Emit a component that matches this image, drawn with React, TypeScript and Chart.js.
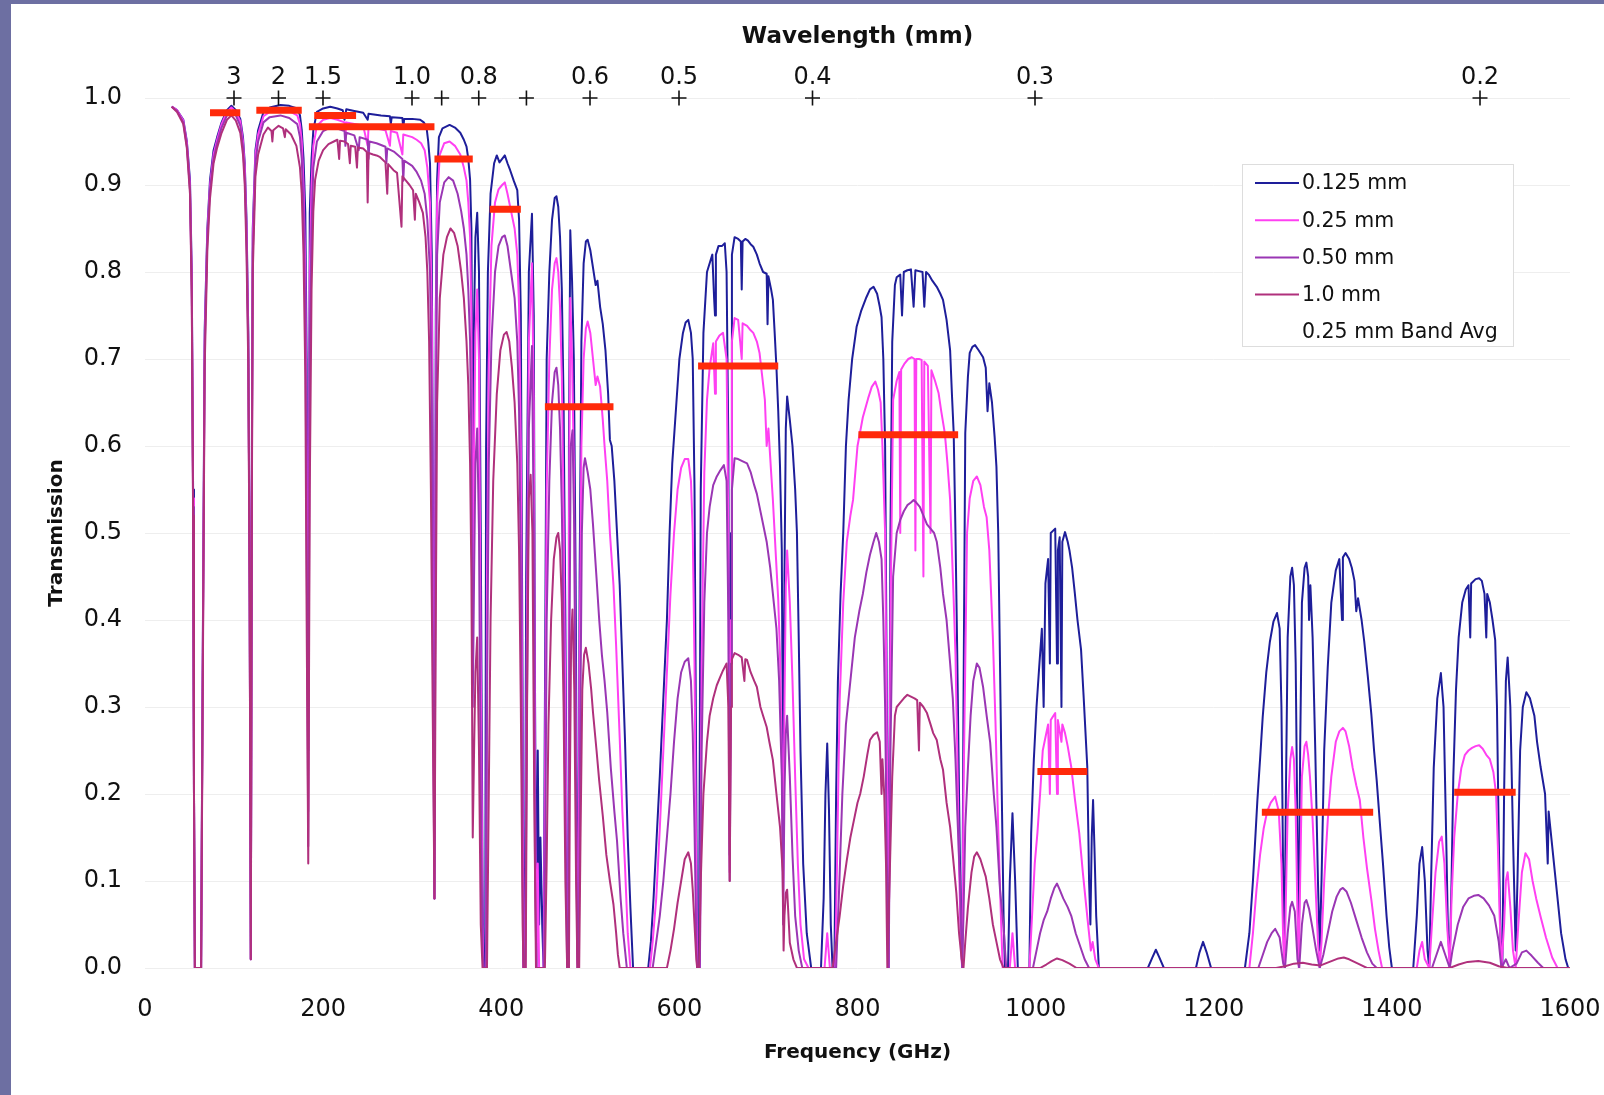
import React, { useEffect, useRef } from 'react';
import { Chart, registerables } from 'chart.js';

Chart.register(...registerables);

const FONT = "'DejaVu Sans', 'Liberation Sans', sans-serif";

// Wavelength axis (mm) and the labels shown above each "+" mark
const wavelengthMm = [3, 2, 1.5, 1.0, 0.9, 0.8, 0.7, 0.6, 0.5, 0.4, 0.3, 0.2];
const wavelengthLabels = ['3', '2', '1.5', '1.0', '', '0.8', '', '0.6', '0.5', '0.4', '0.3', '0.2'];
const wavelengthMarkLevel = 1.0; // the "+" marks sit on the top edge of the plot

const seriesLabels = ['0.125 mm', '0.25 mm', '0.50 mm', '1.0 mm'];
const seriesColors = ['#1e1e9a', '#ff40f2', '#9a36b4', '#b0307c'];
const bandAvgLabel = '0.25 mm Band Avg';
const bandAvgColor = '#ff2a0a';

// 0.25 mm band averages: start / end frequency (GHz) and value
const bandStart = [73, 125, 190, 184, 325, 387, 449, 621, 801, 1002, 1254, 1470];
const bandEnd = [107, 176, 237, 325, 368, 422, 526, 711, 913, 1058, 1379, 1539];
const bandAvg = [0.983, 0.986, 0.98, 0.967, 0.93, 0.872, 0.645, 0.692, 0.613, 0.226, 0.179, 0.202];

// [frequency GHz, transmission]
const pwv0125: [number, number][] = [
  [30,0.99],[36,0.986],[43,0.975],[47,0.95],[50.5,0.906],[52.5,0.8],[54,0.55],[55,0.2],[56,0],[63,0],[64.5,0.3],[67,0.733],[70,0.85],[73,0.906],[77,0.94],[81,0.955],[86,0.972],[92,0.986],[97,0.991],[102,0.986],[107,0.976],[110,0.955],[112,0.925],[114,0.86],[116,0.73],[117.5,0.45],[118.8,0.01],[120,0.6],[121,0.85],[124,0.94],[127,0.963],[133,0.984],[140,0.989],[152,0.992],[162,0.991],[171,0.988],[174,0.98],[176,0.963],[178,0.93],[180,0.868],[181.5,0.7],[183.3,0.25],[185,0.868],[187,0.93],[189,0.963],[193,0.984],[200,0.988],[208,0.99],[216,0.988],[222,0.986],[224,0.975],[226,0.987],[235,0.985],[245,0.983],[250,0.975],[251,0.982],[265,0.98],[275,0.979],[276,0.97],[277,0.978],[289,0.977],[290,0.965],[291,0.976],[300,0.976],[309,0.975],[313,0.972],[316,0.967],[318,0.95],[320,0.925],[322,0.82],[323.5,0.5],[325,0.08],[326.5,0.75],[328,0.906],[330,0.955],[334,0.965],[342,0.969],[348,0.966],[354,0.96],[358,0.952],[361,0.944],[363,0.93],[365,0.906],[366.5,0.85],[368,0.55],[369.5,0.75],[371,0.84],[373,0.868],[375,0.8],[377,0.5],[379,0.1],[380,0],[382,0],[383,0.6],[385,0.8],[388,0.89],[392,0.925],[395,0.934],[398,0.926],[401,0.93],[404,0.934],[407,0.925],[410,0.917],[414,0.905],[418,0.894],[420,0.86],[422,0.75],[424,0.3],[425,0],[426.5,0],[428,0.45],[431,0.8],[434.5,0.867],[436.5,0.75],[438,0.3],[439.5,0],[441,0.25],[442.5,0.05],[444,0.15],[446,0.05],[447.5,0],[449,0.3],[451,0.7],[454,0.8],[457,0.86],[460,0.885],[462,0.887],[464,0.875],[466,0.84],[468,0.78],[470,0.65],[472,0.4],[474,0.05],[475,0.02],[476,0.6],[477.5,0.848],[479.5,0.79],[481.5,0.7],[483.5,0.45],[485.5,0.03],[486.5,0],[488,0.45],[490,0.72],[492.5,0.81],[495,0.835],[497,0.837],[500,0.825],[503,0.805],[506,0.785],[508,0.79],[511,0.76],[514,0.74],[517,0.71],[520,0.66],[522,0.607],[524,0.6],[527,0.56],[530,0.5],[533,0.44],[536,0.35],[539,0.26],[542,0.15],[545,0.07],[548,0],[565,0],[568,0.03],[571,0.08],[575,0.16],[578,0.22],[582,0.31],[586,0.4],[589,0.5],[592,0.58],[596,0.64],[600,0.7],[604,0.73],[607,0.742],[610,0.745],[613,0.73],[615,0.7],[617,0.55],[619,0.2],[620,0],[622,0],[624,0.55],[627,0.73],[631,0.8],[634,0.81],[637,0.82],[639,0.77],[640,0.75],[641,0.82],[644,0.83],[648,0.83],[651,0.833],[653,0.8],[655,0.6],[656.5,0.13],[658,0.5],[659,0.82],[662,0.84],[666,0.838],[669,0.835],[670,0.78],[671,0.835],[674,0.838],[677,0.836],[680,0.832],[683,0.829],[687,0.82],[690,0.81],[694,0.8],[698,0.798],[699,0.74],[700,0.795],[703,0.78],[705,0.768],[707,0.73],[709,0.69],[711,0.64],[713,0.576],[715,0.48],[716.5,0.2],[718,0.45],[719.5,0.62],[721,0.657],[724,0.63],[727,0.6],[730,0.55],[732,0.5],[734,0.38],[736,0.25],[739,0.12],[743,0.04],[748,0],[759,0],[762,0.08],[764,0.2],[766,0.258],[768,0.18],[770,0.05],[772,0],[774,0],[776,0.2],[778,0.33],[781,0.43],[784,0.5],[787,0.6],[790,0.653],[794,0.7],[799,0.737],[804,0.755],[810,0.771],[814,0.78],[818,0.783],[822,0.775],[825,0.76],[827,0.748],[829,0.7],[831,0.6],[833,0.3],[835,0],[837,0.5],[839,0.72],[842,0.785],[844,0.794],[848,0.797],[850,0.75],[852,0.8],[856,0.802],[860,0.803],[863,0.76],[865,0.802],[869,0.801],[873,0.8],[875,0.76],[877,0.8],[880,0.797],[884,0.79],[889,0.783],[893,0.775],[896,0.768],[900,0.745],[904,0.71],[906,0.66],[908,0.615],[910,0.5],[912,0.36],[914,0.2],[916,0.05],[917.5,0],[919,0.3],[921,0.615],[924,0.68],[926,0.707],[929,0.714],[932,0.716],[936,0.71],[941,0.702],[944,0.69],[946,0.64],[948,0.672],[951,0.65],[954,0.61],[956,0.576],[958,0.5],[960,0.35],[962,0.2],[964,0.06],[965.5,0],[969,0],[971,0.1],[974,0.178],[977,0.1],[980,0],[993,0],[995,0.155],[998,0.24],[1001,0.3],[1004,0.346],[1007,0.39],[1009,0.3],[1011,0.442],[1014,0.47],[1016,0.35],[1017,0.5],[1020,0.503],[1022,0.505],[1024,0.35],[1025,0.48],[1027,0.495],[1029,0.3],[1030,0.49],[1033,0.501],[1036,0.49],[1038,0.48],[1041,0.46],[1044,0.431],[1047,0.4],[1051,0.366],[1054,0.31],[1058,0.231],[1060,0.1],[1061.5,0.05],[1063,0.15],[1064.5,0.193],[1066,0.14],[1068,0.06],[1071,0],[1126,0],[1131,0.012],[1135,0.021],[1139,0.012],[1144,0],[1180,0],[1184,0.018],[1188,0.03],[1192,0.018],[1197,0],[1235,0],[1240,0.04],[1244,0.1],[1249,0.193],[1252,0.24],[1255,0.289],[1259,0.34],[1263,0.375],[1267,0.398],[1271,0.408],[1274,0.39],[1276,0.3],[1278,0.1],[1279.5,0.02],[1281,0.2],[1283,0.38],[1286,0.45],[1288,0.46],[1290,0.44],[1292,0.35],[1294,0.15],[1295.5,0.02],[1297,0.25],[1299,0.42],[1302,0.46],[1304,0.466],[1306,0.45],[1307,0.4],[1308.5,0.44],[1311,0.38],[1314,0.25],[1317,0.1],[1319,0.02],[1321,0.1],[1324,0.25],[1328,0.346],[1332,0.42],[1337,0.457],[1341,0.47],[1344,0.4],[1345,0.472],[1348,0.477],[1352,0.47],[1355,0.46],[1358,0.445],[1360,0.41],[1362,0.425],[1366,0.4],[1369,0.375],[1373,0.335],[1377,0.291],[1380,0.25],[1383,0.215],[1387,0.16],[1390,0.12],[1394,0.06],[1397,0.024],[1400,0],[1424,0],[1428,0.06],[1431,0.12],[1434,0.139],[1437,0.1],[1440,0.02],[1442,0],[1444,0.1],[1447,0.23],[1451,0.31],[1455,0.339],[1458,0.3],[1461,0.15],[1463,0.04],[1465,0.01],[1467,0.1],[1469,0.22],[1472,0.32],[1475,0.38],[1479,0.42],[1483,0.435],[1486,0.44],[1488,0.38],[1489,0.442],[1494,0.447],[1498,0.448],[1501,0.445],[1504,0.43],[1506,0.38],[1507,0.43],[1510,0.42],[1513,0.4],[1516,0.377],[1518,0.3],[1520,0.15],[1522,0.03],[1524,0],[1526,0.2],[1528,0.33],[1530,0.357],[1533,0.3],[1536,0.15],[1539,0.02],[1541,0.1],[1544,0.25],[1547,0.3],[1551,0.317],[1555,0.31],[1560,0.29],[1563,0.26],[1567,0.231],[1572,0.2],[1575,0.12],[1576,0.18],[1580,0.14],[1585,0.09],[1590,0.04],[1595,0.01],[1598,0]
];

const pwv025: [number, number][] = [
  [30,0.99],[36,0.986],[43,0.974],[47,0.948],[50.5,0.9],[52.5,0.79],[54,0.54],[55,0.2],[56,0],[63,0],[64.5,0.29],[67,0.72],[70,0.845],[73,0.9],[77,0.935],[81,0.952],[86,0.97],[92,0.984],[97,0.989],[102,0.984],[107,0.973],[110,0.95],[112,0.92],[114,0.85],[116,0.72],[117.5,0.44],[118.8,0.01],[120,0.58],[121,0.84],[124,0.935],[127,0.958],[133,0.979],[140,0.984],[152,0.987],[162,0.985],[171,0.98],[174,0.97],[176,0.95],[178,0.9],[180,0.8],[181.5,0.6],[183.3,0.18],[185,0.8],[187,0.9],[189,0.945],[193,0.968],[200,0.975],[208,0.977],[216,0.975],[224,0.972],[225,0.955],[226,0.972],[235,0.97],[245,0.968],[250,0.945],[251,0.967],[260,0.965],[270,0.963],[275,0.945],[276,0.962],[283,0.96],[289,0.935],[290,0.958],[300,0.955],[305,0.952],[310,0.948],[314,0.94],[317,0.92],[320,0.88],[322,0.75],[323.5,0.4],[325,0.08],[326.5,0.7],[328,0.88],[331,0.935],[336,0.948],[342,0.95],[348,0.945],[354,0.935],[358,0.92],[361,0.905],[363,0.88],[365,0.84],[366.5,0.75],[368,0.4],[369.5,0.6],[371,0.73],[373,0.78],[375,0.7],[377,0.35],[379,0.05],[380,0],[383,0],[384,0.45],[386,0.7],[389,0.83],[393,0.88],[397,0.895],[401,0.9],[404,0.903],[407,0.89],[411,0.87],[415,0.85],[418,0.82],[420,0.76],[422,0.6],[424,0.2],[425,0],[427,0],[428.5,0.35],[431,0.72],[434.5,0.81],[436.5,0.65],[438,0.2],[439.5,0],[441,0.12],[442.5,0],[447.5,0],[449,0.2],[451,0.55],[454,0.7],[457,0.78],[460,0.81],[462,0.816],[464,0.8],[466,0.76],[468,0.68],[470,0.52],[472,0.3],[474,0.02],[475,0],[476,0.5],[477.5,0.77],[479.5,0.7],[481.5,0.58],[483.5,0.3],[485.5,0.01],[486.5,0],[488,0.35],[490,0.6],[492.5,0.7],[495,0.735],[497,0.743],[500,0.73],[503,0.7],[506,0.67],[508,0.68],[511,0.668],[514,0.63],[516,0.6],[519,0.56],[522,0.5],[526,0.44],[529,0.37],[533,0.264],[536,0.18],[539,0.116],[542,0.04],[545,0],[567,0],[570,0.03],[574,0.08],[578,0.16],[582,0.25],[586,0.34],[590,0.43],[594,0.5],[598,0.55],[602,0.575],[606,0.585],[610,0.585],[613,0.56],[615,0.5],[617,0.35],[619,0.1],[620,0],[623,0],[625,0.35],[628,0.57],[631,0.653],[634,0.69],[638,0.718],[640,0.66],[641,0.72],[645,0.727],[649,0.73],[653,0.7],[655,0.5],[656.5,0.11],[658,0.4],[659,0.72],[662,0.747],[666,0.745],[670,0.7],[671,0.741],[676,0.738],[680,0.733],[683,0.73],[687,0.72],[690,0.707],[693,0.68],[696,0.653],[698,0.6],[700,0.62],[703,0.57],[705,0.538],[708,0.48],[711,0.423],[713,0.36],[715,0.25],[716.5,0.08],[718,0.3],[719.5,0.44],[721,0.48],[724,0.42],[727,0.33],[730,0.22],[733,0.12],[736,0.05],[740,0.01],[745,0],[763,0],[766,0.04],[769,0],[775,0],[777,0.12],[780,0.308],[784,0.42],[788,0.49],[792,0.52],[795,0.538],[800,0.6],[806,0.633],[812,0.655],[816,0.668],[820,0.674],[823,0.665],[826,0.65],[828,0.6],[831,0.5],[833,0.25],[835,0],[837,0.4],[840,0.653],[844,0.675],[847,0.685],[848,0.5],[849,0.688],[853,0.695],[857,0.7],[861,0.702],[864,0.7],[865,0.48],[866,0.7],[869,0.7],[872,0.699],[874,0.45],[875,0.697],[879,0.692],[882,0.5],[883,0.687],[887,0.675],[891,0.661],[894,0.64],[898,0.615],[901,0.58],[904,0.538],[906,0.48],[908,0.423],[910,0.36],[912,0.25],[914,0.12],[916,0.03],[917.5,0],[919,0.2],[921,0.35],[923,0.5],[926,0.54],[930,0.56],[934,0.565],[938,0.555],[942,0.53],[945,0.518],[948,0.48],[952,0.38],[955,0.28],[958,0.16],[961,0.06],[963,0],[971,0],[974,0.04],[977,0],[993,0],[996,0.06],[999,0.12],[1002,0.155],[1005,0.2],[1008,0.25],[1011,0.265],[1014,0.28],[1016,0.2],[1017,0.285],[1020,0.29],[1022,0.293],[1024,0.2],[1025,0.285],[1029,0.26],[1030,0.28],[1033,0.27],[1036,0.255],[1040,0.231],[1044,0.195],[1049,0.155],[1053,0.11],[1058,0.059],[1062,0.02],[1064,0.03],[1067,0.01],[1071,0],[1240,0],[1244,0.04],[1248,0.09],[1252,0.13],[1256,0.16],[1260,0.18],[1264,0.19],[1269,0.197],[1273,0.18],[1276,0.12],[1278,0.03],[1279.5,0],[1281,0.08],[1283,0.18],[1286,0.24],[1288,0.254],[1290,0.24],[1292,0.18],[1294,0.06],[1295.5,0],[1297,0.1],[1299,0.22],[1302,0.255],[1304,0.26],[1306,0.245],[1308,0.22],[1311,0.17],[1314,0.1],[1317,0.03],[1319,0],[1321,0.03],[1324,0.1],[1328,0.17],[1332,0.22],[1337,0.26],[1341,0.272],[1345,0.276],[1348,0.272],[1352,0.255],[1356,0.23],[1360,0.21],[1364,0.193],[1368,0.15],[1372,0.115],[1377,0.078],[1381,0.045],[1385,0.02],[1389,0],[1428,0],[1431,0.02],[1434,0.03],[1437,0.01],[1442,0],[1445,0.05],[1449,0.11],[1453,0.145],[1456,0.151],[1459,0.12],[1462,0.05],[1465,0],[1467,0.08],[1470,0.15],[1474,0.2],[1478,0.23],[1482,0.245],[1486,0.25],[1490,0.253],[1494,0.255],[1498,0.256],[1502,0.252],[1506,0.245],[1510,0.24],[1514,0.225],[1517,0.2],[1519,0.14],[1521,0.06],[1523,0],[1526,0.05],[1528,0.1],[1530,0.11],[1533,0.07],[1536,0.02],[1539,0],[1542,0.05],[1546,0.11],[1550,0.132],[1554,0.125],[1558,0.1],[1562,0.08],[1567,0.059],[1573,0.035],[1580,0.012],[1586,0],[1600,0]
];

const pwv050: [number, number][] = [
  [30,0.99],[36,0.985],[43,0.972],[47,0.945],[50.5,0.895],[52.5,0.78],[54,0.53],[55,0.2],[56,0],[63,0],[64.5,0.28],[67,0.71],[70,0.84],[73,0.895],[77,0.93],[81,0.948],[86,0.966],[92,0.98],[97,0.985],[102,0.98],[107,0.968],[110,0.944],[112,0.91],[114,0.84],[116,0.71],[117.5,0.43],[118.8,0.01],[120,0.56],[121,0.82],[124,0.925],[127,0.95],[133,0.972],[140,0.978],[152,0.98],[162,0.977],[171,0.97],[174,0.955],[176,0.93],[178,0.87],[180,0.75],[181.5,0.5],[183.3,0.14],[185,0.72],[187,0.85],[189,0.92],[193,0.95],[200,0.962],[208,0.966],[216,0.965],[224,0.962],[225,0.945],[226,0.96],[235,0.957],[240,0.94],[241,0.955],[250,0.952],[251,0.93],[252,0.95],[260,0.948],[270,0.944],[271,0.925],[272,0.942],[280,0.938],[289,0.93],[290,0.905],[291,0.928],[300,0.922],[305,0.915],[310,0.905],[314,0.89],[317,0.86],[320,0.8],[322,0.65],[323.5,0.3],[325,0.08],[326.5,0.6],[328,0.82],[331,0.88],[336,0.903],[341,0.909],[346,0.905],[351,0.89],[355,0.87],[358,0.85],[361,0.82],[363,0.78],[365,0.72],[366.5,0.6],[368,0.3],[369.5,0.45],[371,0.58],[373,0.62],[375,0.5],[377,0.2],[379,0.02],[380,0],[383,0],[384,0.3],[386,0.58],[389,0.72],[393,0.8],[397,0.83],[401,0.84],[404,0.842],[407,0.83],[411,0.8],[415,0.77],[418,0.72],[420,0.64],[422,0.45],[424,0.1],[425,0],[427,0],[428.5,0.25],[431,0.62],[434.5,0.715],[436.5,0.5],[438,0.1],[439.5,0],[448,0],[449.5,0.15],[451,0.4],[454,0.56],[457,0.65],[460,0.685],[462,0.69],[464,0.67],[466,0.62],[468,0.53],[470,0.38],[472,0.18],[474,0],[475.5,0],[476.5,0.35],[478,0.6],[480,0.618],[482,0.5],[484,0.2],[485.5,0],[487,0],[488.5,0.25],[490.5,0.5],[492.5,0.575],[494,0.586],[497,0.57],[500,0.55],[503,0.51],[507,0.448],[510,0.4],[513,0.36],[516,0.33],[519,0.294],[523,0.23],[527,0.18],[530,0.146],[534,0.08],[537,0.04],[541,0],[570,0],[574,0.03],[578,0.06],[582,0.1],[586,0.15],[590,0.2],[594,0.26],[598,0.31],[602,0.34],[606,0.352],[610,0.356],[613,0.33],[615,0.27],[617,0.16],[619,0.03],[620,0],[623,0],[625,0.25],[628,0.42],[631,0.5],[634,0.53],[638,0.555],[642,0.565],[646,0.572],[650,0.578],[653,0.56],[655,0.4],[656.5,0.1],[658,0.35],[659,0.55],[662,0.586],[666,0.585],[670,0.583],[676,0.58],[680,0.57],[684,0.555],[687,0.545],[690,0.53],[694,0.51],[698,0.49],[702,0.46],[705,0.43],[709,0.39],[712,0.33],[715,0.22],[716.5,0.05],[718,0.2],[719.5,0.27],[721,0.29],[724,0.22],[727,0.13],[730,0.06],[734,0.02],[738,0],[776,0],[779,0.08],[783,0.2],[787,0.28],[792,0.33],[797,0.38],[802,0.41],[806,0.43],[810,0.455],[814,0.475],[818,0.49],[821,0.5],[824,0.49],[827,0.47],[829,0.4],[831,0.3],[833,0.12],[835,0],[837,0.25],[840,0.45],[844,0.5],[848,0.515],[852,0.525],[856,0.532],[860,0.535],[863,0.538],[866,0.535],[870,0.53],[874,0.52],[878,0.51],[882,0.505],[886,0.5],[889,0.49],[893,0.46],[896,0.43],[900,0.4],[904,0.35],[907,0.31],[910,0.24],[912,0.18],[915,0.1],[917.5,0],[919,0.06],[921,0.162],[924,0.23],[927,0.29],[930,0.33],[934,0.35],[937,0.345],[941,0.323],[945,0.29],[949,0.259],[953,0.2],[956,0.162],[960,0.09],[964,0.047],[967,0],[997,0],[1001,0.02],[1005,0.04],[1009,0.055],[1013,0.065],[1017,0.08],[1021,0.092],[1024,0.097],[1027,0.09],[1031,0.08],[1036,0.07],[1040,0.06],[1045,0.04],[1050,0.025],[1055,0.01],[1060,0],[1250,0],[1255,0.015],[1260,0.03],[1265,0.04],[1269,0.045],[1274,0.035],[1278,0.005],[1280,0],[1283,0.04],[1286,0.07],[1288,0.076],[1291,0.065],[1294,0.01],[1296,0],[1299,0.05],[1302,0.075],[1304,0.078],[1307,0.068],[1311,0.045],[1315,0.02],[1319,0],[1323,0.015],[1328,0.04],[1333,0.065],[1338,0.082],[1342,0.09],[1345,0.092],[1349,0.088],[1354,0.075],[1360,0.055],[1366,0.035],[1372,0.018],[1378,0.005],[1383,0],[1445,0],[1450,0.015],[1455,0.03],[1460,0.015],[1465,0],[1468,0.02],[1474,0.05],[1480,0.07],[1486,0.08],[1492,0.083],[1497,0.084],[1503,0.08],[1509,0.072],[1515,0.06],[1520,0.03],[1523,0],[1528,0.01],[1532,0],[1540,0.005],[1546,0.018],[1551,0.02],[1557,0.014],[1564,0.006],[1570,0],[1600,0]
];

const pwv100: [number, number][] = [
  [30,0.99],[36,0.984],[43,0.97],[47,0.942],[50.5,0.89],[52.5,0.77],[54,0.52],[55,0.2],[56,0],[63,0],[64.5,0.26],[67,0.69],[70,0.825],[73,0.885],[77,0.925],[81,0.943],[86,0.96],[92,0.975],[97,0.98],[102,0.974],[107,0.96],[110,0.935],[112,0.9],[114,0.82],[116,0.69],[117.5,0.42],[118.8,0.01],[120,0.54],[121,0.8],[124,0.91],[127,0.935],[133,0.958],[138,0.966],[142,0.962],[143,0.95],[144,0.963],[150,0.968],[155,0.965],[157,0.955],[158,0.964],[164,0.958],[170,0.945],[174,0.92],[176,0.89],[178,0.82],[180,0.68],[181.5,0.4],[183.3,0.12],[185,0.55],[187,0.78],[189,0.87],[191,0.906],[195,0.928],[200,0.94],[206,0.947],[212,0.95],[216,0.952],[218,0.93],[219,0.951],[224,0.95],[228,0.947],[230,0.925],[231,0.945],[236,0.944],[238,0.92],[239,0.943],[245,0.942],[249,0.938],[250,0.88],[251,0.937],[256,0.935],[260,0.934],[264,0.932],[270,0.926],[272,0.89],[273,0.924],[279,0.917],[283,0.914],[288,0.852],[289,0.91],[293,0.905],[297,0.9],[301,0.894],[303,0.86],[304,0.89],[308,0.88],[312,0.868],[315,0.84],[317,0.8],[319,0.72],[321,0.55],[323,0.3],[325,0.08],[326.5,0.4],[328,0.65],[331,0.77],[335,0.82],[339,0.84],[343,0.85],[347,0.845],[351,0.83],[355,0.8],[358,0.77],[361,0.72],[363,0.67],[365,0.58],[366.5,0.45],[368,0.15],[369.5,0.25],[371,0.34],[373,0.38],[375,0.25],[377,0.05],[379,0],[384,0],[385.5,0.15],[388,0.4],[391,0.56],[395,0.66],[399,0.71],[403,0.728],[406,0.731],[409,0.72],[412,0.69],[415,0.65],[418,0.58],[420,0.48],[422,0.3],[424,0.05],[425,0],[427.5,0],[429,0.3],[431,0.54],[433,0.567],[435,0.5],[437,0.2],[439,0],[449,0],[451,0.12],[453,0.28],[456,0.4],[459,0.47],[462,0.495],[464,0.5],[466,0.48],[468,0.42],[470,0.3],[472,0.1],[474,0],[476,0],[477,0.2],[478.5,0.38],[480,0.412],[482,0.32],[484,0.1],[485.5,0],[487.5,0],[489,0.15],[491,0.32],[493,0.36],[495,0.368],[498,0.35],[501,0.32],[503,0.294],[507,0.25],[510,0.215],[514,0.175],[518,0.13],[522,0.1],[526,0.073],[529,0.04],[531,0.015],[533,0],[586,0],[590,0.02],[594,0.045],[598,0.075],[602,0.1],[606,0.125],[610,0.133],[613,0.12],[615,0.09],[617,0.05],[619,0.01],[620,0],[622,0],[624,0.1],[627,0.2],[631,0.26],[634,0.29],[638,0.31],[642,0.325],[646,0.335],[649,0.342],[653,0.35],[655,0.3],[656.5,0.1],[658,0.3],[659,0.355],[662,0.362],[666,0.36],[670,0.357],[673,0.33],[674,0.355],[676,0.354],[680,0.34],[684,0.33],[687,0.323],[691,0.3],[694,0.29],[698,0.277],[701,0.26],[705,0.239],[709,0.2],[713,0.162],[716,0.11],[717,0.02],[718,0.06],[719.5,0.086],[721,0.09],[724,0.029],[728,0.01],[732,0],[772,0],[776,0.03],[780,0.06],[784,0.095],[788,0.124],[792,0.15],[796,0.17],[800,0.19],[803,0.2],[807,0.22],[811,0.245],[814,0.262],[818,0.268],[822,0.271],[825,0.26],[827,0.2],[828,0.24],[830,0.2],[832,0.12],[833.5,0],[836,0.1],[839,0.22],[842,0.29],[844,0.3],[848,0.305],[852,0.31],[856,0.314],[860,0.312],[864,0.31],[867,0.308],[869,0.25],[870,0.305],[874,0.3],[878,0.293],[882,0.28],[885,0.27],[889,0.262],[893,0.24],[896,0.228],[900,0.19],[904,0.162],[907,0.13],[911,0.086],[914,0.04],[917,0.01],[919,0],[921,0.03],[924,0.07],[928,0.11],[931,0.128],[934,0.133],[938,0.125],[941,0.115],[944,0.105],[948,0.08],[952,0.05],[956,0.03],[960,0.01],[964,0],[1005,0],[1012,0.004],[1018,0.008],[1024,0.011],[1030,0.009],[1038,0.005],[1046,0],[1270,0],[1280,0.002],[1290,0.005],[1300,0.006],[1310,0.004],[1320,0.003],[1330,0.007],[1340,0.011],[1346,0.012],[1352,0.01],[1362,0.005],[1372,0],[1465,0],[1475,0.004],[1485,0.007],[1497,0.008],[1510,0.006],[1520,0.002],[1530,0],[1600,0]
];

const seriesData = [pwv0125, pwv025, pwv050, pwv100];

const toPoints = (arr: [number, number][]) => arr.map(([x, y]) => ({ x, y }));

const insideLegend = {
  id: 'insideLegend',
  afterDraw(chart: any) {
    const ctx = chart.ctx;
    const left = 1242, top = 164, w = 271, h = 182;
    ctx.save();
    ctx.fillStyle = '#ffffff';
    ctx.fillRect(left, top, w, h);
    ctx.strokeStyle = '#dddddd';
    ctx.lineWidth = 1;
    ctx.strokeRect(left + 0.5, top + 0.5, w, h);
    ctx.font = `20.5px ${FONT}`;
    ctx.textBaseline = 'middle';
    ctx.textAlign = 'left';
    const items = chart.data.datasets.filter((ds: any) => !ds.notInLegend);
    items.forEach((ds: any, i: number) => {
      const y = 183 + i * 37.2;
      if (!ds.hideLegendSample) {
        ctx.strokeStyle = ds.borderColor;
        ctx.lineWidth = 2;
        ctx.beginPath();
        ctx.moveTo(1255, y);
        ctx.lineTo(1299, y);
        ctx.stroke();
      }
      ctx.fillStyle = '#111111';
      ctx.fillText(ds.label, 1302, y + 1);
    });
    ctx.restore();
  },
};

export default function App() {
  const ref = useRef<HTMLCanvasElement>(null);

  useEffect(() => {
    const canvas = ref.current;
    if (!canvas) return;

    const bandPoints: { x: number; y: number | null }[] = [];
    bandStart.forEach((s, i) => {
      bandPoints.push({ x: s, y: bandAvg[i] }, { x: bandEnd[i], y: bandAvg[i] }, { x: bandEnd[i], y: null });
    });

    const markPoints = wavelengthMm.map((w) => ({ x: 299.79 / w, y: wavelengthMarkLevel }));

    const lineDatasets = seriesData.map((d, i) => ({
      label: seriesLabels[i],
      data: toPoints(d),
      borderColor: seriesColors[i],
      backgroundColor: seriesColors[i],
      borderWidth: 2,
      pointRadius: 0,
      tension: 0,
      borderJoinStyle: 'round' as const,
      fill: false,
      order: 4 - i + 1,
    }));

    const chart = new Chart(canvas, {
      type: 'line',
      data: {
        datasets: [
          ...lineDatasets,
          {
            label: bandAvgLabel,
            data: bandPoints as any,
            borderColor: bandAvgColor,
            backgroundColor: bandAvgColor,
            borderWidth: 7,
            borderCapStyle: 'butt',
            pointRadius: 0,
            spanGaps: false,
            fill: false,
            order: 0,
            hideLegendSample: true,
          } as any,
          {
            label: 'wavelength marks',
            data: markPoints,
            showLine: false,
            pointStyle: 'cross',
            pointRadius: 7.5,
            pointBorderWidth: 1.6,
            borderColor: '#111111',
            backgroundColor: '#111111',
            clip: false,
            order: -1,
            notInLegend: true,
          } as any,
        ],
      },
      options: {
        animation: false,
        responsive: false,
        events: [],
        layout: { padding: { left: 0, right: 34, top: 0, bottom: 0 } },
        plugins: { legend: { display: false }, tooltip: { enabled: false } },
        scales: {
          x: {
            type: 'linear',
            position: 'bottom',
            min: 0,
            max: 1600,
            grid: { display: false },
            border: { display: false },
            ticks: {
              stepSize: 200,
              padding: 19,
              color: '#111',
              font: { family: FONT, size: 24 },
              maxRotation: 0,
              callback: (v: any) => String(v),
            },
            title: {
              display: true,
              text: 'Frequency (GHz)',
              color: '#111',
              font: { family: FONT, size: 20, weight: 'bold' },
              padding: { top: 0, bottom: 30 },
            },
            afterFit: (s: any) => {
              s.height = 127;
              s.paddingLeft = 0;
              s.paddingRight = 0;
            },
          },
          x2: {
            type: 'linear',
            position: 'top',
            min: 0,
            max: 1600,
            grid: { display: false },
            border: { display: false },
            afterBuildTicks: (s: any) => {
              s.ticks = wavelengthMm.map((w) => ({ value: 299.79 / w }));
            },
            ticks: {
              autoSkip: false,
              maxRotation: 0,
              padding: 0,
              color: '#111',
              font: { family: FONT, size: 24, lineHeight: 1 },
              callback: (_v: any, i: number) => wavelengthLabels[i],
            },
            title: {
              display: true,
              text: 'Wavelength (mm)',
              color: '#111',
              font: { family: FONT, size: 23, weight: 'bold' },
              padding: { top: 23, bottom: 0 },
            },
            afterFit: (s: any) => {
              s.height = 98;
              s.paddingLeft = 0;
              s.paddingRight = 0;
            },
          },
          y: {
            type: 'linear',
            position: 'left',
            min: 0,
            max: 1,
            grid: { color: '#eeeeee', drawTicks: false, lineWidth: 1 },
            border: { display: false },
            ticks: {
              stepSize: 0.1,
              padding: 23,
              color: '#111',
              font: { family: FONT, size: 24 },
              callback: (v: any) => Number(v).toFixed(1),
            },
            title: {
              display: true,
              text: 'Transmission',
              color: '#111',
              font: { family: FONT, size: 20, weight: 'bold' },
              padding: { top: 45, bottom: 0 },
            },
            afterFit: (s: any) => {
              s.width = 145;
              s.paddingTop = 0;
              s.paddingBottom = 0;
            },
          },
        },
      } as any,
      plugins: [insideLegend],
    });

    return () => chart.destroy();
  }, []);

  return (
    <div style={{ position: 'fixed', left: 0, top: 0, width: 1604, height: 1095, background: '#ffffff', overflow: 'hidden' }}>
      <div style={{ position: 'absolute', left: 0, top: 0, width: 11, height: 1095, background: '#6d6fa2' }} />
      <div style={{ position: 'absolute', left: 0, top: 0, width: 1604, height: 4, background: '#6d6fa2' }} />
      <canvas
        ref={ref}
        width={1604}
        height={1095}
        style={{ position: 'absolute', left: 0, top: 0, width: 1604, height: 1095 }}
      />
    </div>
  );
}
